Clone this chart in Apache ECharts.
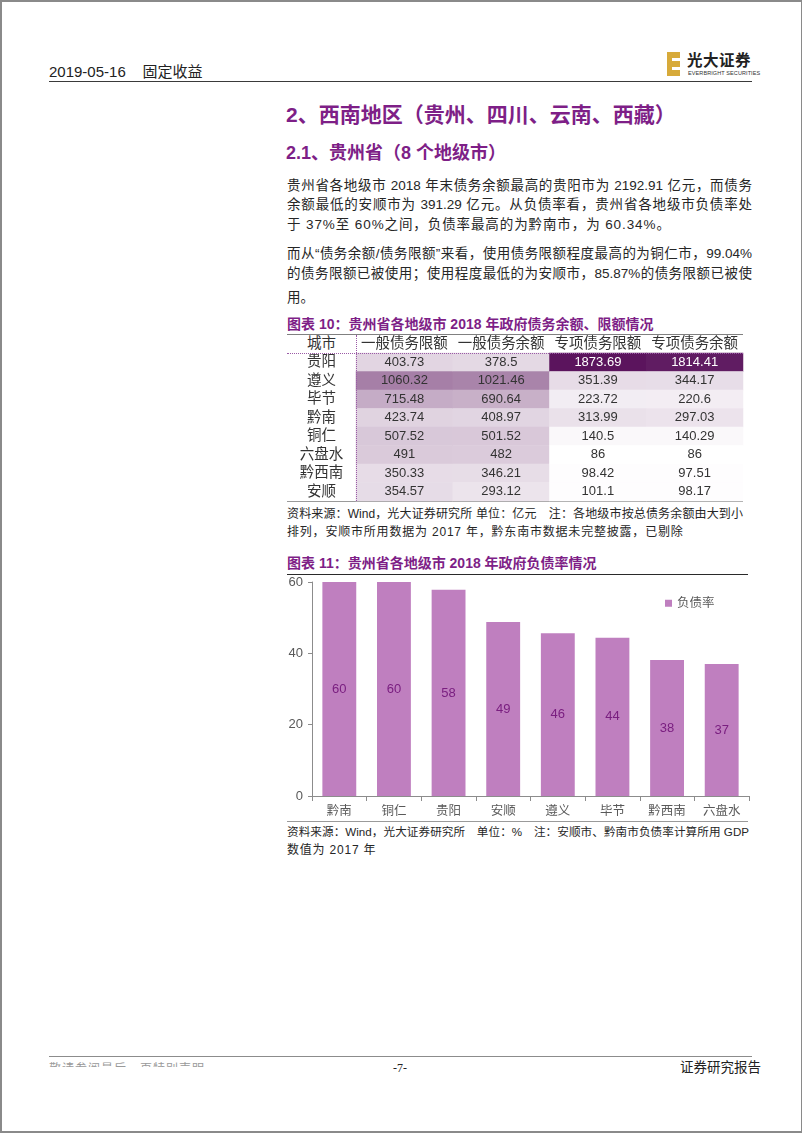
<!DOCTYPE html>
<html>
<head>
<meta charset="utf-8">
<script src="https://cdn.jsdelivr.net/npm/echarts@6/dist/echarts.min.js"></script>
<style>
  html, body { margin: 0; padding: 0; background: #fff; }
  body { width: 802px; height: 1133px; position: relative; overflow: hidden;
         font-family: "Liberation Sans", "Noto Sans CJK SC", sans-serif; color: #262626; }
  .frame { position: absolute; left: 0; top: 0; width: 802px; height: 1133px; box-sizing: border-box; border: 2px solid #8a8a8a; border-right-width: 1px; z-index: 0; }
  .t { position: absolute; white-space: nowrap; z-index: 1; }
  .j { text-align: justify; text-align-last: justify; white-space: normal; }
  .purple { color: #7e1f87; font-weight: bold; }
  .ln { position: absolute; z-index: 1; height: 0; }
  #chart { position: absolute; left: 0; top: 0; width: 802px; height: 1133px; z-index: 2; }
</style>
</head>
<body>
<div class="frame"></div>

<!-- page header -->
<div class="t" style="left:49px; top:63px; line-height:18px; font-size:15px; color:#222;">2019-05-16&nbsp;&nbsp;&nbsp;&nbsp;固定收益</div>
<div class="ln" style="left:49px; top:81px; width:703px; border-top:1.5px solid #3a3a3a;"></div>
<div style="position:absolute; left:667px; top:52px; width:13px; height:24px; background:#d7aa3a; z-index:1;">
  <div style="position:absolute; left:5px; top:6px; width:8px; height:3px; background:#fff;"></div>
  <div style="position:absolute; left:5px; top:15px; width:8px; height:3px; background:#fff;"></div>
</div>
<div class="t" style="left:687px; top:52px; line-height:18px; font-size:15.5px; font-weight:bold; color:#222; letter-spacing:0.5px;">光大证券</div>
<div class="t" style="left:688px; top:70px; line-height:7px; font-size:5.5px; color:#333; letter-spacing:0.1px;">EVERBRIGHT SECURITIES</div>

<!-- headings -->
<div class="t purple" style="left:286px; top:102px; line-height:26px; font-size:21px;">2、西南地区（贵州、四川、云南、西藏）</div>
<div class="t purple" style="left:286px; top:141px; line-height:24px; font-size:18px;">2.1、贵州省（8 个地级市）</div>

<!-- body text -->
<div class="t j" style="left:287px; top:176px; width:465px; line-height:20px; font-size:13.5px;">贵州省各地级市 2018 年末债务余额最高的贵阳市为 2192.91 亿元，而债务</div>
<div class="t j" style="left:287px; top:195px; width:465px; line-height:20px; font-size:13.5px;">余额最低的安顺市为 391.29 亿元。从负债率看，贵州省各地级市负债率处</div>
<div class="t" style="left:287px; top:215px; line-height:20px; font-size:13.5px; letter-spacing:0.9px;">于 37%至 60%之间，负债率最高的为黔南市，为 60.34%。</div>
<div class="t j" style="left:287px; top:244px; width:465px; line-height:20px; font-size:13.5px;">而从“债务余额/债务限额”来看，使用债务限额程度最高的为铜仁市，99.04%</div>
<div class="t j" style="left:287px; top:264px; width:465px; line-height:20px; font-size:13.5px;">的债务限额已被使用；使用程度最低的为安顺市，85.87%的债务限额已被使</div>
<div class="t" style="left:287px; top:288px; line-height:20px; font-size:13.5px;">用。</div>

<!-- figure 10 -->
<div class="t purple" style="left:287px; top:314px; line-height:20px; font-size:14px;">图表 10：贵州省各地级市 2018 年政府债务余额、限额情况</div>
<div class="ln" style="left:287px; top:334px; width:456px; border-top:1.5px solid #808080;"></div>
<div class="t" style="left:287px; top:334px; width:69px; line-height:19px; font-size:14.5px; text-align:center; color:#333;">城市</div>
<div class="ln" style="left:287px; top:353px; width:456px; border-top:1px dotted #9a5aa6; z-index:3;"></div>
<div class="ln" style="left:356px; top:335px; width:0; height:166px; border-left:1px dotted #9a5aa6; z-index:3;"></div>
<div class="ln" style="left:287px; top:501px; width:456px; border-top:1px solid #9a9a9a;"></div>
<div class="t j" style="left:287px; top:505px; width:456px; line-height:18px; font-size:12px;">资料来源：Wind，光大证券研究所 单位：亿元　注：各地级市按总债务余额由大到小</div>
<div class="t" style="left:287px; top:523px; line-height:18px; font-size:12px; letter-spacing:0.8px;">排列，安顺市所用数据为 2017 年，黔东南市数据未完整披露，已剔除</div>

<!-- figure 11 -->
<div class="t purple" style="left:287px; top:553px; line-height:20px; font-size:14px;">图表 11：贵州省各地级市 2018 年政府负债率情况</div>
<div class="ln" style="left:287px; top:574px; width:461px; border-top:1.5px solid #2a2a2a;"></div>
<div class="ln" style="left:287px; top:821px; width:461px; border-top:1px solid #9a9a9a;"></div>
<div class="t j" style="left:287px; top:823px; width:462px; line-height:18px; font-size:11.6px;">资料来源：Wind，光大证券研究所　单位：%　注：安顺市、黔南市负债率计算所用 GDP</div>
<div class="t" style="left:287px; top:841px; line-height:18px; font-size:12px; letter-spacing:0.8px;">数值为 2017 年</div>

<!-- footer -->
<div class="ln" style="left:49px; top:1056px; width:703px; border-top:1.5px solid #8c8c8c;"></div>
<div style="position:absolute; left:49px; top:1061px; width:160px; height:6px; overflow:hidden; z-index:1;">
  <div style="font-size:12px; line-height:16px; color:#9a9a9a; white-space:nowrap; letter-spacing:1px;">敬请参阅最后一页特别声明</div>
</div>
<div class="t" style="left:380px; top:1059px; width:40px; text-align:center; line-height:18px; font-size:12px; font-family:'Liberation Serif', serif; color:#222;">-7-</div>
<div class="t" style="left:680px; top:1059px; width:72px; text-align:right; line-height:18px; font-size:13.5px; color:#222;">证券研究报告</div>

<div id="chart"></div>

<script>
// ---- table data (图表10) ----
const cities = ['贵阳', '遵义', '毕节', '黔南', '铜仁', '六盘水', '黔西南', '安顺'];
const tableHeaders = ['一般债务限额', '一般债务余额', '专项债务限额', '专项债务余额'];
const generalLimit   = [403.73, 1060.32, 715.48, 423.74, 507.52, 491, 350.33, 354.57];
const generalBalance = [378.5, 1021.46, 690.64, 408.97, 501.52, 482, 346.21, 293.12];
const specialLimit   = [1873.69, 351.39, 223.72, 313.99, 140.5, 86, 98.42, 101.1];
const specialBalance = [1814.41, 344.17, 220.6, 297.03, 140.29, 86, 97.51, 98.17];

// ---- bar data (图表11) ----
const barCities = ['黔南', '铜仁', '贵阳', '安顺', '遵义', '毕节', '黔西南', '六盘水'];
const debtRatio = [60.34, 59.98, 57.8, 48.8, 45.6, 44.4, 38.1, 37.0];
const seriesName = '负债率';
const yMin = 0, yMax = 60, yInterval = 20;

const columns = [generalLimit, generalBalance, specialLimit, specialBalance];
const allVals = columns.flat();
const vMin = Math.min(...allVals), vMax = Math.max(...allVals);

const heatData = [];
columns.forEach((col, xi) => {
  col.forEach((v, yi) => {
    const dark = (v - vMin) / (vMax - vMin) > 0.7;
    heatData.push({ value: [xi, yi, v], label: { color: dark ? '#ffffff' : '#333333' } });
  });
});

const FONT = '"Liberation Sans", "Noto Sans CJK SC", sans-serif';

const chart = echarts.init(document.getElementById('chart'), null, { renderer: 'canvas' });
chart.setOption({
  backgroundColor: 'transparent',
  animation: false,
  textStyle: { fontFamily: FONT },
  grid: [
    { left: 356, top: 353, width: 387, height: 148 },
    { left: 312, top: 582, width: 437, height: 214 }
  ],
  xAxis: [
    {
      gridIndex: 0, type: 'category', data: tableHeaders, position: 'top',
      axisLine: { show: false }, axisTick: { show: false }, splitLine: { show: false },
      axisLabel: { interval: 0, hideOverlap: false, fontSize: 14.5, color: '#333', margin: 9, verticalAlign: 'middle', fontFamily: FONT }
    },
    {
      gridIndex: 1, type: 'category', data: barCities,
      axisLine: { lineStyle: { color: '#8c8c8c', width: 1 } },
      axisTick: { show: true, length: 5, lineStyle: { color: '#8c8c8c' } },
      axisLabel: { interval: 0, fontSize: 12.5, color: '#595959', margin: 9, fontFamily: FONT }
    }
  ],
  yAxis: [
    {
      gridIndex: 0, type: 'category', data: cities, inverse: true,
      axisLine: { show: false }, axisTick: { show: false }, splitLine: { show: false },
      axisLabel: { interval: 0, hideOverlap: false, fontSize: 14.5, color: '#333', margin: 34.5, align: 'center', fontFamily: FONT }
    },
    {
      gridIndex: 1, type: 'value', min: yMin, max: yMax, interval: yInterval,
      axisLine: { show: true, lineStyle: { color: '#8c8c8c', width: 1 } },
      axisTick: { show: true, length: 4, lineStyle: { color: '#8c8c8c' } },
      splitLine: { show: false },
      axisLabel: { fontSize: 13, color: '#595959', margin: 9, fontFamily: '"Liberation Sans", sans-serif' }
    }
  ],
  visualMap: {
    type: 'continuous', show: false, seriesIndex: 0, dimension: 2,
    min: vMin, max: vMax,
    inRange: { color: ['#ffffff', '#5b145d'] }
  },
  legend: {
    data: [seriesName], left: 660, top: 592, icon: 'rect', itemWidth: 7, itemHeight: 7,
    textStyle: { fontSize: 12.5, color: '#595959', fontFamily: FONT }
  },
  series: [
    {
      type: 'heatmap', xAxisIndex: 0, yAxisIndex: 0, data: heatData,
      label: { show: true, fontSize: 13, fontFamily: '"Liberation Sans", sans-serif' },
      itemStyle: { borderWidth: 0 },
      emphasis: { disabled: true }
    },
    {
      name: seriesName, type: 'bar', xAxisIndex: 1, yAxisIndex: 1, data: debtRatio,
      barCategoryGap: '38%',
      itemStyle: { color: '#bf7fbf' },
      label: {
        show: true, position: 'inside', color: '#7a1f80', fontSize: 13,
        fontFamily: '"Liberation Sans", sans-serif',
        formatter: p => Math.round(p.value)
      },
      emphasis: { disabled: true }
    }
  ]
});
</script>
</body>
</html>
